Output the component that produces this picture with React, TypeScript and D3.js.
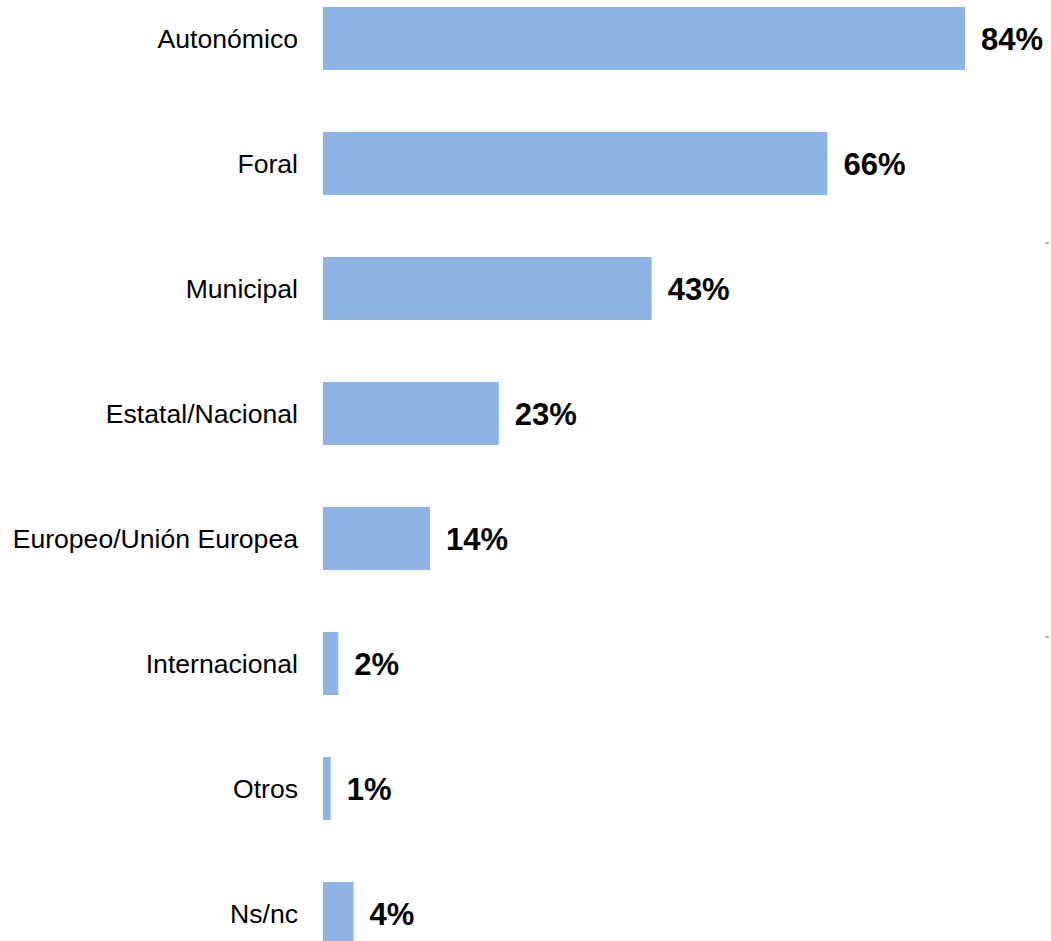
import React from "react";
import * as d3 from "d3";

const categories = [
  "Autonómico",
  "Foral",
  "Municipal",
  "Estatal/Nacional",
  "Europeo/Unión Europea",
  "Internacional",
  "Otros",
  "Ns/nc",
];
const values = [84, 66, 43, 23, 14, 2, 1, 4];
const valueLabels = ["84%", "66%", "43%", "23%", "14%", "2%", "1%", "4%"];

const W = 1051;
const H = 941;

export default function App() {
  const x = d3.scaleLinear().domain([0, 84]).range([323, 965]);
  const y = d3
    .scaleBand<string>()
    .domain(categories)
    .range([7, 945])
    .paddingInner(0.496)
    .paddingOuter(0);
  const bw = y.bandwidth();
  return (
    <svg
      width={W}
      height={H}
      style={{ position: "absolute", left: 0, top: 0, background: "#fff" }}
    >
      {categories.map((c, i) => {
        const yy = y(c)!;
        const cy = yy + bw / 2;
        return (
          <g key={c}>
            <rect
              x={x(0)}
              y={yy}
              width={x(values[i]) - x(0)}
              height={bw}
              fill="#8EB4E3"
            />
            <text
              x={298}
              y={cy}
              dy="0.35em"
              textAnchor="end"
              fontFamily="Liberation Sans, Arial, sans-serif"
              fontSize={26.6}
              fill="#000"
            >
              {c}
            </text>
            <text
              x={x(values[i]) + 16}
              y={cy}
              dy="0.37em"
              textAnchor="start"
              fontFamily="Liberation Sans, Arial, sans-serif"
              fontSize={31}
              fontWeight="bold"
              fill="#000"
            >
              {valueLabels[i]}
            </text>
          </g>
        );
      })}
      <rect x={1045} y={242} width={4} height={2} fill="#bbb" />
      <rect x={1045} y={636} width={4} height={2} fill="#bbb" />
    </svg>
  );
}
